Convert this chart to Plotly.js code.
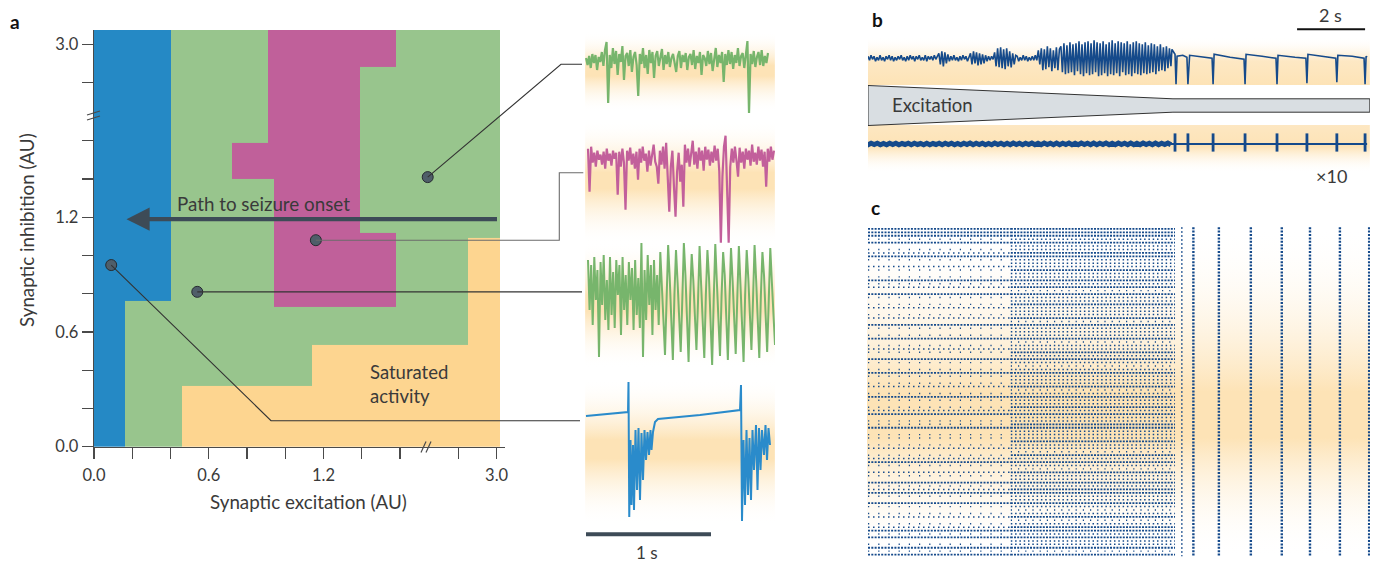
<!DOCTYPE html>
<html><head><meta charset="utf-8">
<script src="https://cdn.plot.ly/plotly-3.0.1.min.js"></script>
<style>html,body{margin:0;padding:0;background:#fff;}#chart{width:1375px;height:563px;}</style>
</head><body><div id="chart"></div>
<script>
// ================= DATA =================
// Panel a: regime map over (synaptic excitation, synaptic inhibition), AU
const excitationEdges = [0, 0.16, 0.40, 0.46, 0.72, 0.91, 0.94, 1.14, 1.39, 1.58, 2.85, 3.02];
const inhibitionEdges = [0, 0.32, 0.53, 0.73, 0.76, 1.09, 1.12, 1.40, 1.59, 2.88, 3.08];
// 0 = silent (blue), 1 = asynchronous (green), 2 = synchronous (magenta), 3 = saturated (orange)
const regimeGrid = [
  [0,1,1,3,3,3,3,3,3,3,3],
  [0,1,1,1,1,1,1,3,3,3,3],
  [0,1,1,1,1,1,1,1,1,1,3],
  [0,1,1,1,1,1,2,2,2,1,3],
  [0,0,1,1,1,1,2,2,2,1,3],
  [0,0,1,1,1,1,2,2,2,1,1],
  [0,0,1,1,1,1,2,2,1,1,1],
  [0,0,1,1,2,2,2,2,1,1,1],
  [0,0,1,1,1,2,2,2,1,1,1],
  [0,0,1,1,1,2,2,2,2,1,1]
];
const regimeColors = ['#2589c5', '#98c58d', '#c0609a', '#fdd590'];
const axisTickValues = [0, 0.2, 0.4, 0.6, 0.8, 1.0, 1.2, 1.4, 1.6, 2.8, 3.0];
const axisTickLabels = ['0.0', '', '', '0.6', '', '', '1.2', '', '', '', '3.0'];
const sampleExcitation = [2.17, 1.16, 0.54, 0.09];
const sampleInhibition = [1.41, 1.08, 0.81, 0.95];
const pathExcitation = [3.01, 0.17];
const pathInhibition = [1.19, 1.19];

// Panel a example traces (time s, potential AU)
const traceA1 = [2,-5,4,-8,6,-3,5,-10,3,-2,8,-6,10,18,-43,5,-8,12,-4,9,-15,6,-2,14,-20,4,7,-6,10,-12,3,8,-5,-36,6,-4,12,-8,5,-14,10,-3,8,-18,4,9,-6,3,11,-10,5,-4,8,-7,2,6,-3,-12,4,9,-8,5,-2,7,-10,3,6,-5,10,-9,4,-3,8,-15,5,2,-6,9,-4,7,-11,3,12,-7,5,-3,8,-22,6,-5,10,-4,8,-9,5,-3,12,-6,4,7,-8,5,19,-53,6,-4,9,-7,3,8,-5,10,-6,4,-3,7];
const traceA2 = [8,-35,10,-6,4,-10,6,-3,2,-8,5,-12,8,-4,3,-9,6,-2,4,-38,5,-10,8,-6,-53,6,-4,9,-8,3,-12,5,-23,8,-6,10,-4,3,-15,6,-9,4,12,-5,-10,-27,6,-8,10,-12,14,-20,-55,-10,6,-30,-60,-15,4,-25,-8,-50,12,-6,8,-10,4,16,-8,5,-12,9,-4,6,-14,10,-3,7,-9,5,-6,11,-4,8,-15,-86,-20,10,21,-40,-86,-10,8,-6,10,-4,-20,9,-6,5,-12,8,-3,6,-9,12,-5,4,-8,10,-4,7,-10,5,-30,8,-5,10,-3,6];
const traceA3 = [30,-20,25,-35,33,-10,20,-67,28,-15,35,-30,10,-40,33,-25,18,-38,30,-5,25,-45,33,-20,15,-35,28,-10,22,-40,30,-25,12,-38,47,-67,20,-30,35,-15,25,-45,30,-20,15,-35,
  38,10,-30,-65,-15,45,12,-25,-70,-5,40,8,-35,-62,-10,47,15,-28,-72,-8,36,10,-30,-60,-12,44,5,-35,-68,-5,40,12,-25,-75,-10,46,8,-32,-66,-6,38,15,-28,-70,-12,42,10,-30,-64,-8,44,6,-35,-72,-5,40,12,-25,-60,-10,45,10,-30,-68,-6,38,15,-28,-62,-12,42,8,-30,-55];
const traceA4Time = [0,0.336,0.34,0.346,0.356,0.364,0.376,0.384,0.396,0.408,0.42,0.432,0.444,0.456,0.468,0.48,0.492,0.504,0.516,0.524,0.536,0.552,0.576,0.672,0.912,1.232,1.24,1.248,1.26,1.272,1.284,1.296,1.308,1.32,1.332,1.344,1.36,1.372,1.384,1.396,1.408,1.424,1.436,1.448,1.46,1.472];
const traceA4 = [-1,3,33,-102,-25,-90,-30,-95,-15,-75,-13,-85,-18,-65,-15,-45,-17,-40,-15,-35,-17,-7,-4,-3,0,5,30,-106,-25,-90,-15,-80,-23,-85,-15,-55,-10,-75,-13,-55,-15,-40,-10,-45,-13,-30];

// Panel b: field potential (top), excitation ramp, single unit x10 (bottom); time in s
const bTopEarly = [2,-2,3,-1,2,-3,1,-2,3,-2,1,-3,2,-1,3,-2,2,-3,1,-2,2,-1,3,-2,1,-3,2,-2,3,-1,2,-3,2,-1,3,-2,1,-2,3,-3,2,-1,2,-2,3,-1,2,
  5,-6,7,-8,6,-5,4,-3,
  2,-2,3,-2,1,-3,2,-2,3,-1,2,-3,2,
  5,-6,7,-5,6,-7,5,-6,4,-5,3,-3,2,
  -2,2,-1,
  6,-8,10,-9,11,-10,9,-11,10,-8,7,-9,5,-6,3,
  2,-3,1,-2,3,-2,2,-3,1,-2,2,-2,3,-2,
  8,-6,10,-12,9,-11,12,-9,10,-13,8,-10,11,-12,9,
  12,-14,15,-16,13,-15,16,-14,14,-17,15,-13,17,-16,14,-18,16,-15,17,-17,15,-16,18,-14,16,-18,15,-17,17,-15,14,-18,16,-16,18,-17,15,-15,17,-18,16,-14,15,-17,17,-16,14,-18,16,-15,17,-16,15,-17,14,-15,16,-16,13,-15,15,-14,14,-16,12,-13,14,-12,11,-13,12,-10,10,-8];
const bTransition = 8.91;
const bTopLateTime = [8.94,9.03,9.06,9.09,9.26,9.38,9.41,9.46,9.71,10.12,10.15,10.18,10.65,11.06,11.09,11.12,11.59,12.0,12.03,12.06,12.56,12.88,12.91,12.94,13.35,13.76,13.79,13.82,14.24,14.59,14.62,14.65,14.68];
const bTopLate = [9,4,-26,2,3,1,-26,3,2,0,-26,4,1,-1,-26,4,2,0,-26,3,1,0,-25,4,2,0,-24,3,2,0,-26,2,1];
const bBottomEarly = [2,-3,3,-2,3,-3,2,-3,3,-2,3,-3,2,-2,3,-3,3,-2,2,-3,3,-3,2,-2,3,-3,3,-2,3,-3,2,-3,3,-2,4,-3,3,-2,3,-3,2,-3,4,-2,3,-3,3,-3,4,-2,3,-3,3,-2,4,-3,3,-3,4,-2,3,-3,4,-3,3,-2,4,-3,3,-3,4,-2,3,-3,4,-3,3,-2,4,-3,3,-3,4,-2,3,-3,4,-3,3,-3,4,-2,3,-3,4,-3,3,-2,4,-3];
const bBottomSpikeTimes = [9.03,9.41,10.15,11.09,12.03,12.91,13.79,14.62];
const excitationTime = [0, 8.97, 14.76];
const excitationHalfWidth = [20, 6.7, 6.7];

// Panel c: raster, per-neuron firing density (0 none .. 3 dense) before/after split, bursts
const rasterEarly = "3331301231" + "0210131203" + "1012012031" + "0130121031" + "0131012013" + "1012301130" + "1101201231" + "0210312310" + "3101201231" + "301313";
const rasterLate  = "3332322332" + "2232232313" + "2232223132" + "2231223232" + "1232223123" + "2232322332" + "2232213232" + "1322323322" + "3212312332" + "322313";
const rasterSplitTime = 4.2;
const rasterEndTime = 9.03;
const burstTimes = [9.23, 9.57, 10.32, 11.26, 12.17, 13.0, 13.88, 14.74];

// ================= LAYOUT HELPERS =================
const W = 1375, H = 563;
const PX = p => p / W;
const PY = p => 1 - p / H;
const domX = (a, b) => [PX(a), PX(b)];
const domY = (top, bottom) => [PY(bottom), PY(top)];
const FONT = 'Lato, "Open Sans", sans-serif';
const TXT = '#3a3a3a';
const NAVY = '#154a8b';
const ORANGE = '#fde3b6';
const CLEAR = 'rgba(255,255,255,0)';

// broken axis: 0..1.6 linear, 1.6..2.8 compressed, >=2.8 shifted
function toU(v) {
  if (v <= 1.6) return v;
  if (v < 2.8) return 1.6 + (v - 1.6) * 0.305 / 1.2;
  return v - 0.895;
}
const A_X0 = 94, A_Y0 = 446.7, A_PPX = 191.25, A_PPY = 191.2;
const aPx = v => A_X0 + toU(v) * A_PPX;
const aPy = v => A_Y0 - toU(v) * A_PPY;

const linspace = (n, a, b) => Array.from({length: n}, (_, i) => a + (b - a) * i / (n - 1));
const hidden = (d, r, anchor) => ({domain: d, range: r, anchor: anchor, visible: false, fixedrange: true});

const traces = [];
const layout = {
  width: W, height: H, margin: {l: 0, r: 0, t: 0, b: 0, pad: 0},
  paper_bgcolor: '#ffffff', plot_bgcolor: 'rgba(0,0,0,0)',
  showlegend: false, hovermode: false,
  font: {family: FONT, color: TXT},
  annotations: [], shapes: []
};

function bgRect(xa, ya, x0, x1, y0, y1, cs, start, stop) {
  const g = {type: 'vertical', colorscale: cs};
  if (start !== undefined) { g.start = start; g.stop = stop; }
  traces.push({type: 'scatter', mode: 'lines', xaxis: xa, yaxis: ya,
    x: [x0, x1, x1, x0, x0], y: [y0, y0, y1, y1, y0], fill: 'toself',
    fillgradient: g, line: {width: 0}, hoverinfo: 'skip'});
}

// ================= PANEL a : regime map =================
const cs = [];
regimeColors.forEach((c, i) => { cs.push([i / 4, c]); cs.push([(i + 1) / 4, c]); });
traces.push({type: 'heatmap', xaxis: 'x', yaxis: 'y',
  x: excitationEdges.map(toU), y: inhibitionEdges.map(toU), z: regimeGrid,
  zmin: -0.5, zmax: 3.5, colorscale: cs, showscale: false, zsmooth: false, hoverinfo: 'skip'});
traces.push({type: 'scatter', mode: 'markers', xaxis: 'x', yaxis: 'y', cliponaxis: false,
  x: sampleExcitation.map(toU), y: sampleInhibition.map(toU),
  marker: {size: 11, color: '#4f5e69', line: {color: '#262b30', width: 1}}});

const axStyle = {showgrid: false, zeroline: false, showline: true, linecolor: '#4a4a4a', linewidth: 1.3,
  ticks: 'outside', ticklen: 11, tickwidth: 1.3, tickcolor: '#4a4a4a',
  tickfont: {family: FONT, size: 16.5, color: TXT}, tickmode: 'array',
  tickvals: axisTickValues.map(toU), ticktext: axisTickLabels, fixedrange: true};
layout.xaxis = Object.assign({}, axStyle, {domain: domX(94, 505), range: [0, (505 - 94) / A_PPX], anchor: 'y', ticklabelstandoff: 2});
layout.yaxis = Object.assign({}, axStyle, {domain: domY(30, A_Y0), range: [0, (A_Y0 - 30) / A_PPY], anchor: 'x'});

// Path to seizure onset arrow
layout.annotations.push({xref: 'x', yref: 'y', axref: 'x', ayref: 'y',
  x: toU(pathExcitation[1]), y: toU(pathInhibition[1]), ax: toU(pathExcitation[0]), ay: toU(pathInhibition[0]),
  text: '', showarrow: true, arrowhead: 2, arrowsize: 1.1, arrowwidth: 4.2, arrowcolor: '#3d4b57', standoff: 0, startstandoff: 0});

// break marks
function seg(x0, y0, x1, y1, color, width) {
  layout.shapes.push({type: 'line', xref: 'paper', yref: 'paper', x0: PX(x0), y0: PY(y0), x1: PX(x1), y1: PY(y1),
    line: {color: color, width: width}});
}
seg(421, 452.5, 426, 441.5, '#4a4a4a', 1.2); seg(426, 452.5, 431, 441.5, '#4a4a4a', 1.2);
seg(87, 115, 100, 111, '#4a4a4a', 1.2); seg(87, 120, 100, 116, '#4a4a4a', 1.2);

// connectors from sample points to traces
const routes = [
  [[561, 64.3], [582, 64.3]],
  [[559.3, null], [559.3, 172.7], [583.3, 172.7]],
  [[582, null]],
  [[271, 420.7], [580, 420.7]]
];
const routeColor = ['#333333', '#6b6b6b', '#333333', '#333333'];
sampleExcitation.forEach((ex, i) => {
  const sx = aPx(ex), sy = aPy(sampleInhibition[i]);
  let p = `M${PX(sx)},${PY(sy)}`;
  routes[i].forEach(([x, y]) => { p += ` L${PX(x)},${PY(y === null ? sy : y)}`; });
  layout.shapes.push({type: 'path', xref: 'paper', yref: 'paper', path: p, line: {color: routeColor[i], width: 1.1}});
});

// ================= PANEL a : example traces =================
const TX = domX(585, 775), TR = [-0.008, 1.512];
const panelsA = [
  {n: 2, top: 30, bot: 116, base: 60, bgTop: 32, bgBot: 112},
  {n: 3, top: 116, bot: 246, base: 156.7, bgTop: 120, bgBot: 245},
  {n: 4, top: 238, bot: 372, base: 290, bgTop: 242, bgBot: 368},
  {n: 5, top: 376, bot: 527, base: 415, bgTop: 378, bgBot: 525}
];
const gradA = [[0, CLEAR], [0.45, ORANGE], [0.58, ORANGE], [1, CLEAR]];
panelsA.forEach(p => {
  layout['xaxis' + p.n] = hidden(TX, TR, 'y' + p.n);
  layout['yaxis' + p.n] = hidden(domY(p.top, p.bot), [-(p.bot - p.base), p.base - p.top], 'x' + p.n);
  bgRect('x' + p.n, 'y' + p.n, TR[0] + 0.001, TR[1] - 0.001, -(p.bgBot - p.base), p.base - p.bgTop, gradA);
});
traces.push({type: 'scatter', mode: 'lines', xaxis: 'x2', yaxis: 'y2', x: linspace(traceA1.length, 0, 1.456), y: traceA1, line: {color: '#77b56c', width: 2.2}});
traces.push({type: 'scatter', mode: 'lines', xaxis: 'x3', yaxis: 'y3', x: linspace(traceA2.length, 0.016, 1.504), y: traceA2, line: {color: '#c25f9b', width: 2.2}});
traces.push({type: 'scatter', mode: 'lines', xaxis: 'x4', yaxis: 'y4', x: linspace(traceA3.length, 0.016, 1.512), y: traceA3, line: {color: '#77b56c', width: 2}});
traces.push({type: 'scatter', mode: 'lines', xaxis: 'x5', yaxis: 'y5', x: traceA4Time, y: traceA4, line: {color: '#2a8bcb', width: 2}});
// 1 s scale bar
seg(586 + 125 * 0, 534.3, 586 + 125 * 1, 534.3, '#3d4b57', 4);

// ================= PANEL b =================
const BX = domX(868, 1370), BR = [0, 14.765];
layout.xaxis6 = hidden(BX, BR, 'y6');
layout.yaxis6 = hidden(domY(37, 85), [-26.7, 21.3], 'x6');
layout.xaxis7 = hidden(BX, BR, 'y7');
layout.yaxis7 = hidden(domY(125, 173), [-116, 76], 'x7');
layout.xaxis8 = hidden(BX, BR, 'y8');
layout.yaxis8 = hidden(domY(82.5, 128.5), [-23, 23], 'x8');
bgRect('x6', 'y6', 0, 14.76, -26.7, 21.3, [[0, ORANGE], [0.5, '#fde8c4'], [1, CLEAR]]);
bgRect('x7', 'y7', 0, 14.76, -116, 76, [[0, CLEAR], [0.55, ORANGE], [1, '#fde7c2']]);
traces.push({type: 'scatter', mode: 'lines', xaxis: 'x6', yaxis: 'y6',
  x: linspace(bTopEarly.length, 0, bTransition).concat(bTopLateTime), y: bTopEarly.concat(bTopLate),
  line: {color: NAVY, width: 1.6}});
traces.push({type: 'scatter', mode: 'lines', xaxis: 'x7', yaxis: 'y7',
  x: linspace(bBottomEarly.length, -0.09, bTransition), y: bBottomEarly, line: {color: NAVY, width: 5}});
traces.push({type: 'scatter', mode: 'lines', xaxis: 'x7', yaxis: 'y7',
  x: [bTransition, 14.68], y: [0, 0], line: {color: NAVY, width: 1.8}});
traces.push({type: 'scatter', mode: 'markers', xaxis: 'x7', yaxis: 'y7', cliponaxis: false,
  x: bBottomSpikeTimes, y: bBottomSpikeTimes.map(() => 6),
  marker: {symbol: 'line-ns', size: 13, line: {color: NAVY, width: 2.8}}});
// excitation wedge
const wx = excitationTime.concat(excitationTime.slice().reverse(), [excitationTime[0]]);
const wy = excitationHalfWidth.concat(excitationHalfWidth.slice().reverse().map(v => -v), [excitationHalfWidth[0]]);
traces.push({type: 'scatter', mode: 'lines', xaxis: 'x8', yaxis: 'y8', x: wx, y: wy, fill: 'toself',
  fillcolor: '#d9dee2', line: {color: '#333333', width: 1}});
// 2 s scale bar
seg(868 + 34 * 12.62, 29.3, 868 + 34 * 14.62, 29.3, '#111111', 2);

// ================= PANEL c =================
layout.xaxis9 = hidden(domX(867, 1370), [-0.03, 14.765], 'y9');
layout.yaxis9 = hidden(domY(226.5, 557), [95.7, -0.7], 'x9');
bgRect('x9', 'y9', -0.03, 14.765, -0.7, 95.7, [[0, CLEAR], [0.5, ORANGE], [0.64, ORANGE], [1, CLEAR]], -0.7, 95.7);
const dashEarly = {1: '1.2px,9px', 2: '1.5px,3.5px', 3: '2px,1.3px'};
const dashLate = {1: '1.2px,6px', 2: '1.5px,2.8px', 3: '2px,1.2px'};
const widthByLevel = {1: 1.4, 2: 1.5, 3: 1.8};
[[rasterEarly, 0, rasterSplitTime, dashEarly], [rasterLate, rasterSplitTime, rasterEndTime, dashLate]].forEach(([str, t0, t1, dashes]) => {
  [1, 2, 3].forEach(level => {
    const xs = [], ys = [];
    for (let r = 0; r < str.length; r++) {
      if (+str[r] === level) { xs.push(t0, t1, null); ys.push(r, r, null); }
    }
    traces.push({type: 'scatter', mode: 'lines', xaxis: 'x9', yaxis: 'y9', x: xs, y: ys, connectgaps: false,
      line: {color: NAVY, width: widthByLevel[level], dash: dashes[level]}});
  });
});
burstTimes.forEach((t, i) => {
  traces.push({type: 'scatter', mode: 'lines', xaxis: 'x9', yaxis: 'y9', x: [t, t], y: [-0.5, 95.5],
    line: {color: NAVY, width: i === 0 ? 1.6 : 2.4, dash: i === 0 ? '1.5px,2.5px' : '2px,1.4px'}});
});

// ================= TEXT =================
function label(text, x, y, size, opts) {
  layout.annotations.push(Object.assign({xref: 'paper', yref: 'paper', x: PX(x), y: PY(y), text: text,
    showarrow: false, xanchor: 'center', yanchor: 'middle', font: {family: FONT, size: size, color: TXT}}, opts || {}));
}
label('<b>a</b>', 15, 22, 19, {font: {family: FONT, size: 19, color: '#111'}});
label('<b>b</b>', 877, 20, 19, {font: {family: FONT, size: 19, color: '#111'}});
label('<b>c</b>', 876, 208, 19, {font: {family: FONT, size: 19, color: '#111'}});
label('Path to seizure onset', 175, 203, 18.8, {xanchor: 'left'});
label('Saturated<br>activity', 368, 384, 18.5, {xanchor: 'left', align: 'left'});
label('Synaptic excitation (AU)', 308, 501, 18.8);
label('Synaptic inhibition (AU)', 26, 230, 18.8, {textangle: -90});
label('1 s', 647, 552, 17);
label('2 s', 1330, 15, 18);
label('×10', 1331, 176, 18);
label('Excitation', 890, 105, 18.5, {xanchor: 'left'});

Plotly.newPlot('chart', traces, layout, {staticPlot: true, displayModeBar: false});
</script>
</body></html>
